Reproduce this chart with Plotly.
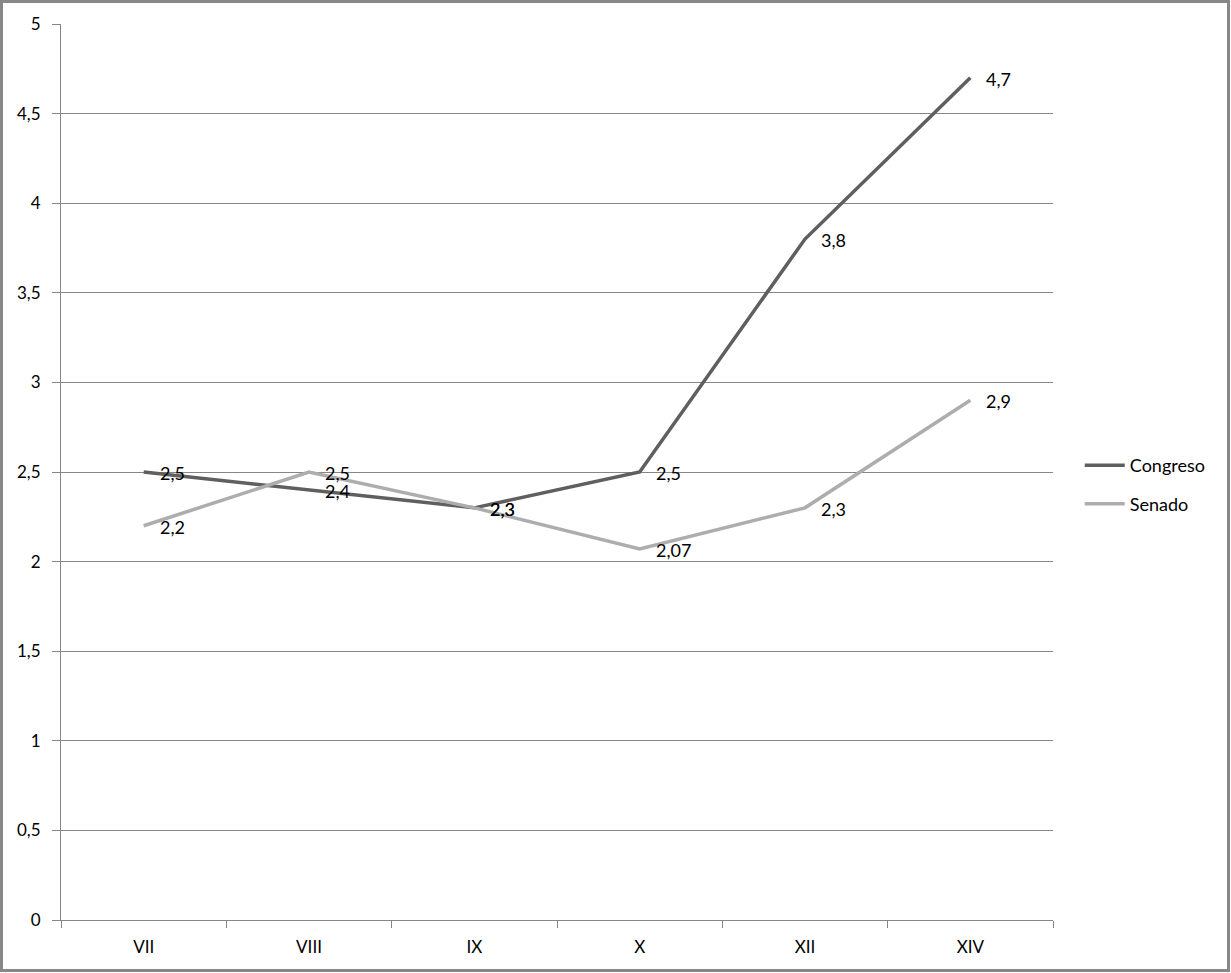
import plotly.graph_objects as go

# legislaturas y valores
legislaturas = ["VII", "VIII", "IX", "X", "XII", "XIV"]
congreso = [2.5, 2.4, 2.3, 2.5, 3.8, 4.7]
senado = [2.2, 2.5, 2.3, 2.07, 2.3, 2.9]


def etiquetas(vals):
    return [str(v).replace(".", ",") for v in vals]


W, H = 1231, 973
L, R, T, B = 61, 178, 24, 53
pw, ph = W - L - R, H - T - B

fig = go.Figure()
fig.add_trace(go.Scatter(
    x=legislaturas, y=congreso, name="Congreso", mode="lines",
    line=dict(color="#5f5f5f", width=3.5), legendgroup="c",
))
fig.add_trace(go.Scatter(
    x=legislaturas, y=senado, name="Senado", mode="lines",
    line=dict(color="#adadad", width=3.5), legendgroup="s",
))

# data labels, a bit to the right of each point (Excel style)
for serie in (congreso, senado):
    for cat, v, txt in zip(legislaturas, serie, etiquetas(serie)):
        fig.add_annotation(
            x=cat, y=v, text=txt, showarrow=False,
            xanchor="left", yanchor="middle", xshift=14, yshift=-1,
            font=dict(size=18, color="black"),
        )

# outer chart border
fig.add_shape(
    type="rect", xref="paper", yref="paper",
    x0=-(L - 1.5) / pw, x1=(W - L - 2.5) / pw,
    y0=-(B - 2.5) / ph, y1=(H - B - 1.5) / ph,
    line=dict(color="#878787", width=3),
)

fig.update_layout(
    width=W, height=H,
    margin=dict(l=L, r=R, t=T, b=B),
    paper_bgcolor="white", plot_bgcolor="white",
    separators=",.",
    font=dict(family="Lato, Open Sans, sans-serif", size=17, color="black"),
    showlegend=True,
    legend=dict(
        x=1.027, y=0.486, xanchor="left", yanchor="middle",
        font=dict(size=18), itemwidth=40, tracegroupgap=12,
    ),
    xaxis=dict(
        type="category", range=[-0.5, 5.5],
        showgrid=False, showline=True, linecolor="#868686", linewidth=1,
        ticks="outside", tickson="boundaries", ticklen=7, tickcolor="#868686",
        zeroline=False, ticklabelstandoff=12,
    ),
    yaxis=dict(
        range=[0, 5], dtick=0.5,
        showgrid=True, gridcolor="#868686", gridwidth=1,
        showline=True, linecolor="#868686", linewidth=1,
        ticks="outside", ticklen=8, tickcolor="#868686",
        zeroline=False, ticklabelstandoff=8,
    ),
)

fig.write_html(
    "out.html",
    config={"displayModeBar": False},
    post_script="document.body.style.margin='0';",
)
